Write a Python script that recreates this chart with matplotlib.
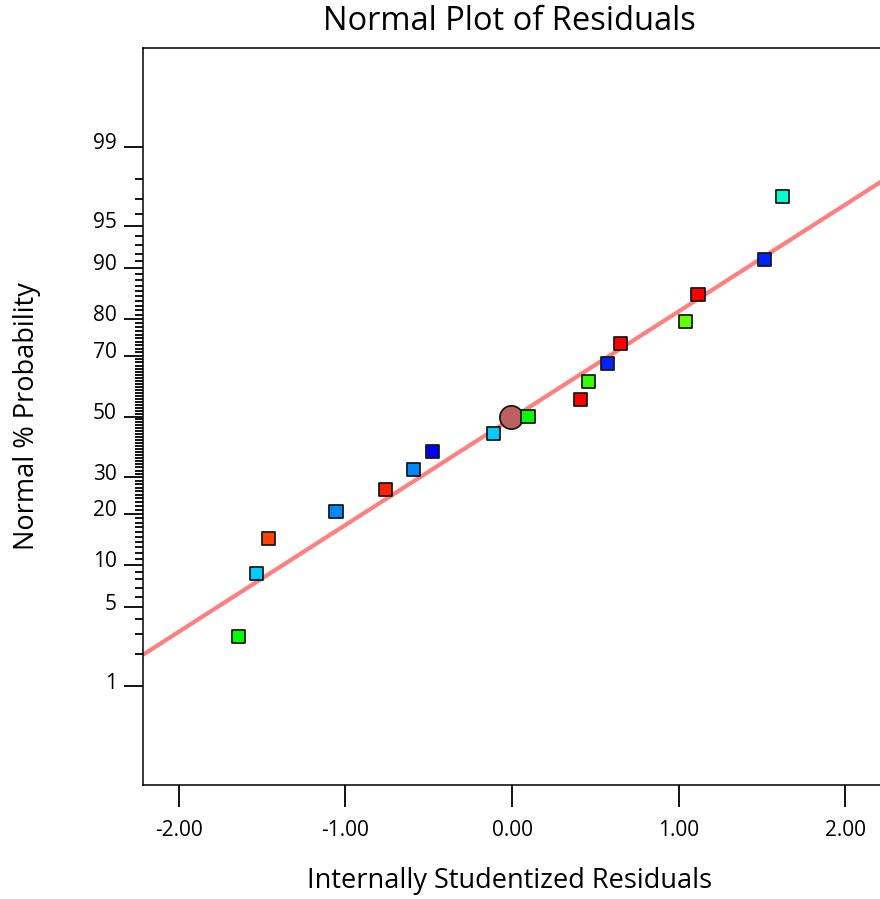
"""Normal probability plot of internally studentized residuals."""
from statistics import NormalDist

import numpy as np
import matplotlib
matplotlib.use("Agg")
import matplotlib.pyplot as plt
from matplotlib.transforms import ScaledTranslation

plt.rcParams["font.family"] = ["Open Sans", "DejaVu Sans"]

# residuals, sorted by plotting position
residuals = [-1.640, -1.532, -1.465, -1.057, -0.757, -0.589, -0.480, -0.114,
             0.096, 0.414, 0.462, 0.571, 0.652, 1.042, 1.117, 1.514, 1.622]
probability = [2.9, 8.8, 14.7, 20.6, 26.5, 32.4, 38.2, 44.1,
               50.0, 55.9, 61.8, 67.6, 73.5, 79.4, 85.3, 91.2, 97.1]
point_colors = ["#00FF00", "#00CCFF", "#FF4400", "#0088FF", "#FF2200", "#0088FF",
                "#0000FF", "#00CCFF", "#00FF00", "#FF0000", "#33FF00", "#0022FF",
                "#FF0000", "#66FF00", "#FF0000", "#0022FF", "#00FFCC"]

# highlighted point (circle)
marker_x = [-0.008]
marker_p = [50.0]

# reference line in z units: z = slope * x + intercept
line_slope = 0.921
line_intercept = -0.015

x_ticks = [-2.0, -1.0, 0.0, 1.0, 2.0]
y_major = [1, 5, 10, 20, 30, 50, 70, 80, 90, 95, 99]
y_minor = [p for p in range(1, 100) if p not in y_major]

_nd = NormalDist()
_ppf = np.vectorize(lambda q: _nd.inv_cdf(q))
_cdf = np.vectorize(lambda z: _nd.cdf(z))


def prob_forward(p):
    p = np.asarray(p, dtype=float)
    q = np.clip(p / 100.0, 1e-9, 1 - 1e-9)
    return _ppf(q) if q.size else q


def prob_inverse(z):
    z = np.asarray(z, dtype=float)
    return _cdf(z) * 100.0 if z.size else z


fig = plt.figure(figsize=(8.8, 8.99), dpi=100)
ax = fig.add_axes([143 / 880, 1 - 785 / 899, 741 / 880, 737 / 899])

ax.set_yscale("function", functions=(prob_forward, prob_inverse))
ax.set_xlim(-2.216, 2.234)
ax.set_ylim(prob_inverse(-3.18), prob_inverse(3.18))

# fitted line
xl = np.array(ax.get_xlim())
ax.plot(xl, prob_inverse(line_slope * xl + line_intercept),
        color="#FF7F7F", lw=3.0, solid_capstyle="butt", zorder=2)

ax.scatter(marker_x, marker_p, s=280, marker="o", color="#BC6060",
           edgecolors="#1a1a1a", linewidths=1.3, zorder=3)
ax.scatter(residuals, probability, s=88, marker="s", c=point_colors,
           edgecolors="#1a1a1a", linewidths=1.3, zorder=4)

ax.set_xticks(x_ticks)
ax.set_xticklabels([f"{v:.2f}" for v in x_ticks])
ax.set_yticks(y_major)
ax.set_yticklabels([str(v) for v in y_major])
ax.set_yticks(y_minor, minor=True)
ax.tick_params(axis="x", which="major", length=16, width=1.3, pad=9, labelsize=15)
ax.tick_params(axis="y", which="major", length=14, width=1.3, pad=5, labelsize=15)
ax.tick_params(axis="y", which="minor", length=6, width=1.3)
ax.tick_params(axis="x", which="minor", bottom=False)

offset = ScaledTranslation(0, 4 / 72, fig.dpi_scale_trans)
for lab in ax.get_yticklabels():
    lab.set_transform(lab.get_transform() + offset)

for side in ["left", "bottom", "top", "right"]:
    ax.spines[side].set_linewidth(1.1)

ax.set_xlabel("Internally Studentized Residuals", fontsize=19.5, va="center")
ax.xaxis.set_label_coords(0.4946, -0.130)
ax.set_ylabel("Normal % Probability", fontsize=19.5, va="center")
ax.yaxis.set_label_coords(-0.156, 0.5)

fig.text(509 / 880, 1 - 21 / 899, "Normal Plot of Residuals",
         ha="center", va="center", fontsize=23.5)

fig.savefig("out.png", dpi=100)
plt.close(fig)
